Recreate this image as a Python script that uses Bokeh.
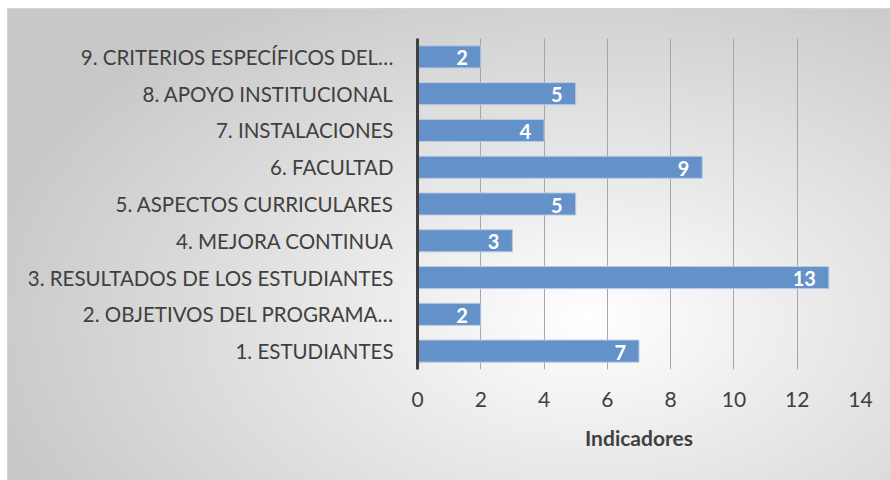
from bokeh.plotting import figure
from bokeh.models import ColumnDataSource, Range1d, FactorRange
from bokeh.embed import file_html
from bokeh.resources import INLINE
from bokeh.core.properties import value

categories = [
    "1. ESTUDIANTES",
    "2. OBJETIVOS DEL PROGRAMA…",
    "3. RESULTADOS DE LOS ESTUDIANTES",
    "4. MEJORA CONTINUA",
    "5. ASPECTOS CURRICULARES",
    "6. FACULTAD",
    "7. INSTALACIONES",
    "8. APOYO INSTITUCIONAL",
    "9. CRITERIOS ESPECÍFICOS DEL…",
]
values = [7, 2, 13, 3, 5, 9, 4, 5, 2]
x_ticks = [0, 2, 4, 6, 8, 10, 12, 14]
x_title = "Indicadores"

FONT = "Lato"

src = ColumnDataSource(dict(cat=categories, val=values, lab=[str(v) for v in values]))

p = figure(
    width=890, height=480,
    y_range=FactorRange(*categories, range_padding=0),
    x_range=Range1d(0, 14),
    output_backend="svg", toolbar_location=None,
    min_border_left=417, min_border_right=30, min_border_top=38, min_border_bottom=111,
)
p.border_fill_color = None
p.background_fill_color = None
p.outline_line_color = None
p.styles = {
    "background-color": "white",
    "background-image": "linear-gradient(#d4d4d4, #d4d4d4), linear-gradient(#d4d4d4, #d4d4d4), "
                        "radial-gradient(ellipse 70% 80% at 66% 66%, #ffffff 0%, #eeeeee 30%, #c8c8c8 100%)",
    "background-position": "7px 8px, 7px 8px, 7px 8px",
    "background-size": "883px 1px, 1px 472px, 883px 472px",
    "background-repeat": "no-repeat",
}

p.hbar(y="cat", right="val", left=0, height=0.6, source=src,
       fill_color="#6591c9", line_color="#b7cbe6", line_width=1)

p.text(x="val", y="cat", text="lab", source=src, text_align="right", text_baseline="middle",
       x_offset=-13, y_offset=1, text_color="white", text_font=value(FONT),
       text_font_style="bold", text_font_size="20px")

p.xaxis.ticker = x_ticks
p.xaxis.axis_line_color = None
p.xaxis.major_tick_line_color = None
p.xaxis.minor_tick_line_color = None
p.xaxis.major_label_text_font = FONT
p.xaxis.major_label_text_font_size = "21px"
p.xaxis.major_label_text_color = "#404040"
p.xaxis.major_label_standoff = 16
p.xaxis.axis_label = x_title
p.xaxis.axis_label_text_font = FONT
p.xaxis.axis_label_text_font_style = "bold"
p.xaxis.axis_label_text_font_size = "21px"
p.xaxis.axis_label_text_color = "#404040"
p.xaxis.axis_label_standoff = 15

p.yaxis.axis_line_color = "#404040"
p.yaxis.axis_line_width = 3
p.yaxis.major_tick_line_color = None
p.yaxis.minor_tick_line_color = None
p.yaxis.major_label_text_font = FONT
p.yaxis.major_label_text_font_size = "20.5px"
p.yaxis.major_label_text_color = "#404040"
p.yaxis.major_label_standoff = 18

p.xgrid.grid_line_color = "#a6a6a6"
p.xgrid.grid_line_width = 1
p.ygrid.grid_line_color = None

open("out.html", "w").write(file_html(p, INLINE))
